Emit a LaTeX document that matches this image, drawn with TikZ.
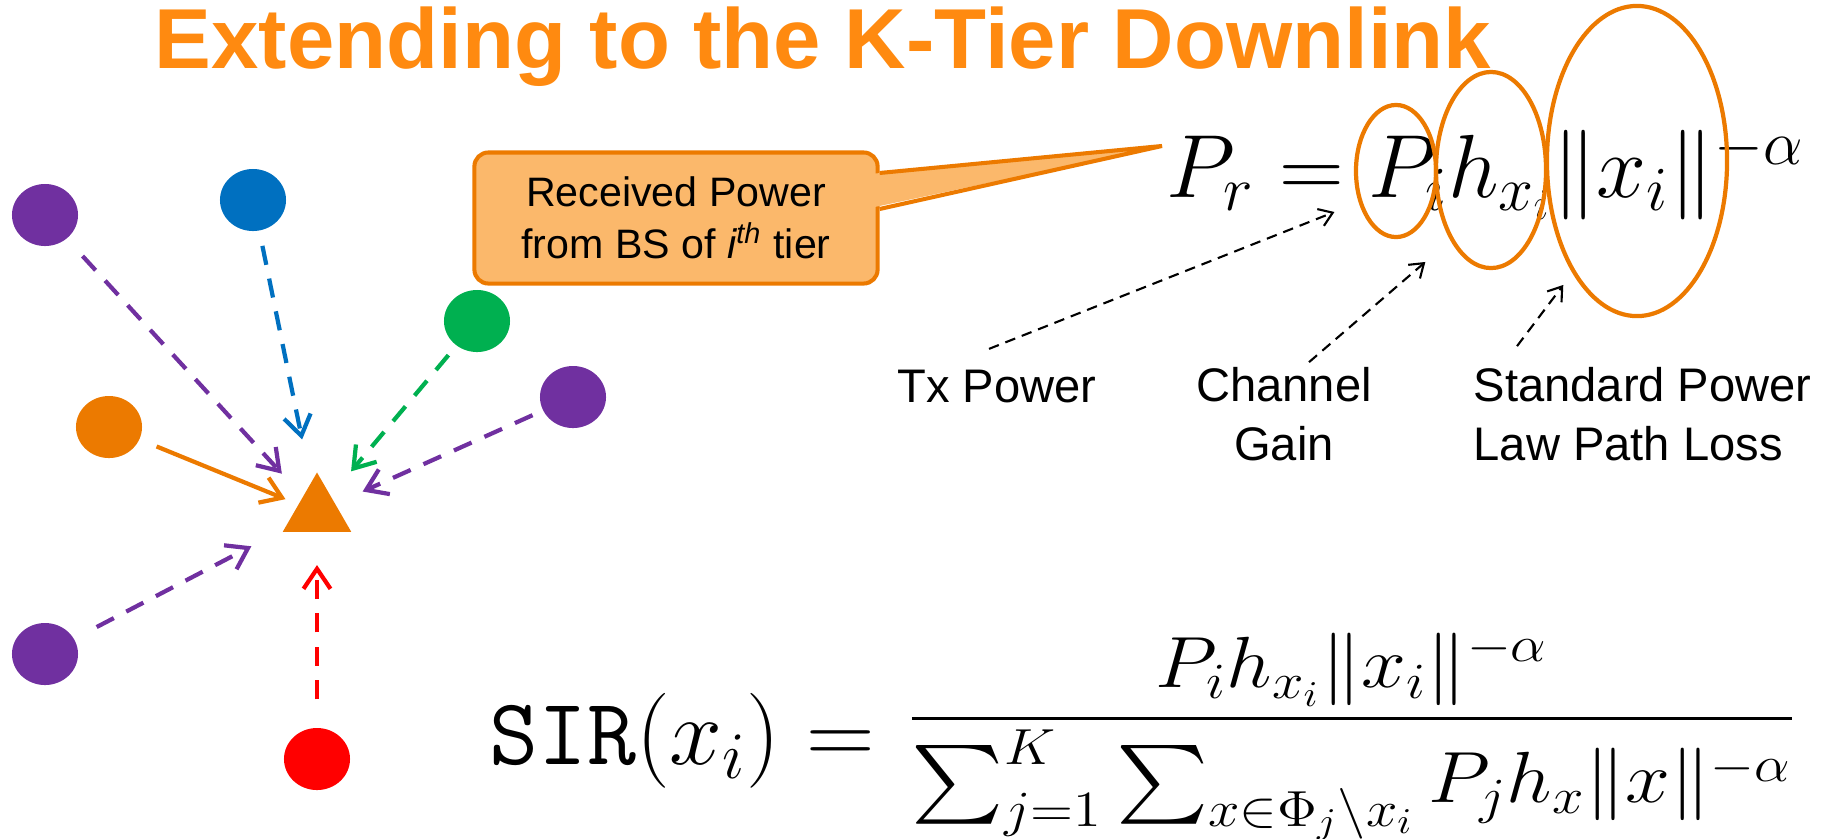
\RequirePackage{fix-cm}
\documentclass[tikz,border=0pt]{standalone}
\usepackage[no-math]{fontspec}
\setmainfont{Liberation Sans}
\usepackage{amsmath}
\usetikzlibrary{shapes.geometric,arrows.meta,calc}

\definecolor{titleorange}{HTML}{FF8A10}
\definecolor{bsorange}{HTML}{EC7A00}
\definecolor{bspurple}{HTML}{7030A0}
\definecolor{bsblue}{HTML}{0070C0}
\definecolor{bsgreen}{HTML}{00B050}
\definecolor{bsred}{HTML}{FF0000}
\definecolor{calloutfill}{HTML}{FBB86B}

\begin{document}
\begin{tikzpicture}[
    x=0.01cm, y=-0.01cm,
    bs/.style={ellipse, minimum width=0.66cm, minimum height=0.62cm, inner sep=0, fill=#1},
    link/.style={#1, line width=1.2pt, dash pattern=on 5.5pt off 4pt, -{Straight Barb[length=2mm, width=2.7mm]}},
    ring/.style={ellipse, draw=bsorange, line width=1.2pt, inner sep=0},
    note/.style={font=\fontsize{13.4}{16.5}\selectfont, inner sep=0},
    pointer/.style={black, line width=0.6pt, dash pattern=on 3pt off 2pt, -{Straight Barb[length=1.3mm, width=1.8mm]}},
]
\useasboundingbox (0,0) rectangle (1836,838);

% title
\node[anchor=base west, inner sep=0, text=titleorange, font=\fontsize{24.2}{29}\selectfont\bfseries] (title) at (154,68) {Extending to the K-Tier Downlink};

% base stations around the typical user
\node[regular polygon, regular polygon sides=3, minimum size=0.79cm, inner sep=0, fill=bsorange] (ue) at (317,512) {};
\node[bs=bspurple] (bs1) at (45,215) {};
\node[bs=bsblue] (bs2) at (253,200) {};
\node[bs=bsgreen] (bs3) at (477,321) {};
\node[bs=bspurple] (bs4) at (573,397) {};
\node[bs=bsorange] (bs5) at (109,427) {};
\node[bs=bspurple] (bs6) at (45,654) {};
\node[bs=bsred] (bs7) at (317,759) {};

\draw[link=bspurple, shorten <=0.23cm, shorten >=0.52cm] (bs1) -- (ue.center);
\draw[link=bsblue, shorten <=0.15cm, shorten >=0.74cm] (bs2) -- (ue.center);
\draw[link=bsgreen, shorten <=0.12cm, shorten >=0.53cm] (bs3) -- (ue.center);
\draw[link=bspurple, shorten <=0.11cm, shorten >=0.50cm] (bs4) -- (ue.center);
\draw[link=bsorange, solid, shorten <=0.18cm, shorten >=0.34cm] (bs5) -- (ue.center);
\draw[link=bspurple, shorten <=0.25cm, shorten >=0.74cm] (bs6) -- (ue.center);
\draw[link=bsred, shorten <=0.28cm, shorten >=0.53cm] (bs7) -- (ue.center);

% received power
\node[anchor=base west, inner sep=0, font=\fontsize{25.5}{30}\selectfont] (pr) at (1166,197) {$P_r = P_i h_{x_i} \|x_i\|^{-\alpha}$};

\node[ring, minimum width=0.80cm, minimum height=1.32cm] (ringP) at (1396,171) {};
\node[ring, minimum width=1.10cm, minimum height=1.96cm] (ringH) at (1491,170) {};
\node[ring, minimum width=1.80cm, minimum height=3.10cm] (ringX) at (1637,161) {};

% callout
\node[draw=bsorange, fill=calloutfill, line width=1.15pt, rounded corners=0.14cm, minimum width=4.03cm, minimum height=1.31cm, align=center, font=\fontsize{11.7}{14.8}\selectfont] (callout) at (676,218) {Received Power\\from BS of {\itshape i\textsuperscript{th}} tier};
\fill[calloutfill] (870,174) -- ([xshift=-0.04cm, yshift=0.51cm]pr.base west) -- (870,208) -- cycle;
\draw[bsorange, line width=1.15pt] ([yshift=0.45cm]callout.east) -- ([xshift=-0.04cm, yshift=0.51cm]pr.base west) -- ([yshift=0.09cm]callout.east);

% labels
\node[note, anchor=base] (txpow) at (997,402) {Tx Power};
\node[note, anchor=base, align=center] (chan) at (1284,460) {Channel\\Gain};
\node[note, anchor=base west, align=left] (pathloss) at (1473,460) {Standard Power\\Law Path Loss};

\draw[pointer, shorten >=0.26cm] ([xshift=-0.08cm, yshift=0.2cm]txpow.north) -- (ringP.220);
\draw[pointer, shorten >=0.33cm] ([xshift=0.25cm, yshift=0.05cm]chan.north) -- (ringH.240);
\draw[pointer, shorten >=0.15cm] ([xshift=0.44cm, yshift=0.21cm]pathloss.north west) -- (ringX.240);

% SIR
\node[anchor=base west, inner sep=0, font=\fontsize{27}{32}\selectfont] (sirlhs) at (489,764) {$\mathtt{SIR}(x_i) =$};
\node[anchor=base west, inner sep=0, font=\fontsize{22.9}{28}\selectfont] (sirfrac) at (907,737) {\scalebox{1}[0.9]{$\displaystyle \frac{P_i h_{x_i}\|x_i\|^{-\alpha}}{\sum_{j=1}^{K}\sum_{x\in\Phi_j\setminus x_i} P_j h_x\|x\|^{-\alpha}}$}};
\end{tikzpicture}
\end{document}
